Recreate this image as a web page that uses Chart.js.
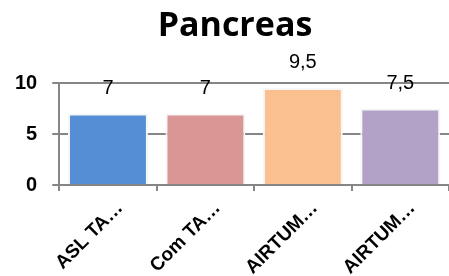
<!DOCTYPE html>
<html>
<head>
<meta charset="utf-8">
<script src="https://cdn.jsdelivr.net/npm/chart.js@4"></script>
<style>
  html, body { margin: 0; padding: 0; background: #fff; }
  #wrap { width: 449px; height: 276px; }
</style>
</head>
<body>
<div id="wrap"><canvas id="pancreasChart"></canvas></div>
<script>
var categories = ['ASL TA…', 'Com TA…', 'AIRTUM…', 'AIRTUM…'];
var values = [7, 7, 9.5, 7.5];
var barColors = ['#558ed5', '#d99694', '#fac090', '#b3a2c7'];
var yTicks = [0, 5, 10];
var chartTitle = 'Pancreas';

// value labels above bars (decimal comma) + title a bit right of centre, like the original
var extraText = {
    id: 'extraText',
    afterDatasetsDraw: function (chart) {
        var ctx = chart.ctx;
        var meta = chart.getDatasetMeta(0);
        ctx.save();
        ctx.font = '20px "Liberation Sans", sans-serif';
        ctx.fillStyle = '#000';
        ctx.textAlign = 'center';
        ctx.textBaseline = 'alphabetic';
        meta.data.forEach(function (bar, i) {
            ctx.fillText(String(values[i]).replace('.', ','), bar.x, bar.y - 20);
        });
        ctx.font = 'bold 34px "Open Sans", sans-serif';
        ctx.fillText(chartTitle, 235, 36);
        ctx.restore();
    }
};

var ctx1 = document.getElementById('pancreasChart').getContext('2d');
var pancreasChart = new Chart(ctx1, {
    type: 'bar',
    data: {
        labels: categories,
        datasets: [{
            label: chartTitle,
            data: values,
            backgroundColor: barColors,
            borderColor: '#f6f6f6',
            borderWidth: 2,
            categoryPercentage: 0.82,
            barPercentage: 1
        }]
    },
    options: {
        responsive: true,
        maintainAspectRatio: false,
        animation: false,
        layout: { padding: { left: 0, right: 0, top: 83, bottom: 0 } },
        scales: {
            y: {
                min: 0,
                max: 10,
                afterBuildTicks: function (axis) {
                    axis.ticks = yTicks.map(function (v) { return { value: v }; });
                },
                ticks: {
                    color: '#000',
                    font: { family: 'Liberation Sans', size: 20, weight: 'bold' },
                    padding: 15
                },
                grid: { color: '#868686', lineWidth: 2, tickLength: 7 },
                border: { color: '#868686', width: 2 }
            },
            x: {
                offset: true,
                afterFit: function (axis) {
                    axis.height = 91;
                },
                ticks: {
                    color: '#000',
                    maxRotation: 45,
                    minRotation: 45,
                    labelOffset: 12,
                    font: { family: 'Liberation Sans', size: 19, weight: 'bold' },
                    padding: 6
                },
                grid: { color: '#868686', lineWidth: 2, drawOnChartArea: false, tickLength: 6, offset: true },
                border: { color: '#868686', width: 2 }
            }
        },
        plugins: {
            legend: { display: false },
            tooltip: { enabled: false },
            title: { display: false }
        }
    },
    plugins: [extraText]
});
</script>
</body>
</html>
